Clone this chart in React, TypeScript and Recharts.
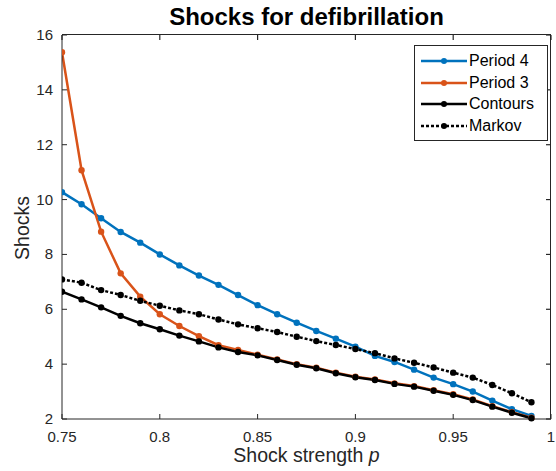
import React from 'react';
import { LineChart, Line, XAxis, YAxis, Label } from 'recharts';

// shock strength p
const strength = [
  0.75, 0.76, 0.77, 0.78, 0.79, 0.8, 0.81, 0.82, 0.83, 0.84, 0.85, 0.86, 0.87,
  0.88, 0.89, 0.9, 0.91, 0.92, 0.93, 0.94, 0.95, 0.96, 0.97, 0.98, 0.99,
];
const period4 = [
  10.27, 9.83, 9.32, 8.82, 8.43, 8.0, 7.6, 7.23, 6.89, 6.52, 6.15, 5.82, 5.51,
  5.21, 4.93, 4.64, 4.3, 4.08, 3.8, 3.51, 3.27, 3.0, 2.67, 2.36, 2.11,
];
const period3 = [
  15.37, 11.07, 8.83, 7.31, 6.46, 5.82, 5.39, 5.02, 4.69, 4.52, 4.34, 4.17, 4.0,
  3.87, 3.69, 3.54, 3.44, 3.3, 3.2, 3.05, 2.9, 2.71, 2.47, 2.25, 2.05,
];
const contours = [
  6.64, 6.36, 6.07, 5.76, 5.49, 5.27, 5.04, 4.83, 4.61, 4.44, 4.32, 4.15, 3.98,
  3.85, 3.67, 3.52, 3.42, 3.28, 3.18, 3.03, 2.88, 2.69, 2.45, 2.23, 2.03,
];
const markov = [
  7.09, 6.97, 6.7, 6.52, 6.31, 6.13, 5.96, 5.82, 5.63, 5.45, 5.31, 5.17, 5.0,
  4.84, 4.7, 4.55, 4.4, 4.21, 4.05, 3.88, 3.69, 3.51, 3.24, 2.94, 2.61,
];
const xTicks = [0.75, 0.8, 0.85, 0.9, 0.95, 1];
const yTicks = [2, 4, 6, 8, 10, 12, 14, 16];

const data = strength.map((p, i) => ({
  p,
  period4: period4[i],
  period3: period3[i],
  contours: contours[i],
  markov: markov[i],
}));

const series = [
  { key: 'period4', name: 'Period 4', color: '#0072BD', dash: undefined },
  { key: 'period3', name: 'Period 3', color: '#D95319', dash: undefined },
  { key: 'contours', name: 'Contours', color: '#000000', dash: undefined },
  { key: 'markov', name: 'Markov', color: '#000000', dash: '3 2' },
];

const X_DOMAIN = [0.75, 1];
const Y_DOMAIN = [2, 16];

const W = 556;
const H = 471;
const MARGIN = { top: 35, right: 5, bottom: 0, left: 0 };
const Y_AXIS_W = 62;
const X_AXIS_H = 52;

const AXIS = '#262626';
const FONT = '"Liberation Sans", Arial, Helvetica, sans-serif';
const TICK = 5;

const BottomTick = (props: any) => {
  const { x, y, payload } = props;
  return (
    <g>
      <line x1={x} y1={y} x2={x} y2={y - TICK} stroke={AXIS} strokeWidth={1} />
      <text x={x} y={y + 23} textAnchor="middle" fill={AXIS} fontSize={15} fontFamily={FONT}>
        {payload.value}
      </text>
    </g>
  );
};

const LeftTick = (props: any) => {
  const { x, y, payload } = props;
  return (
    <g>
      <line x1={x} y1={y} x2={x + TICK} y2={y} stroke={AXIS} strokeWidth={1} />
      <text x={x - 9} y={y + 5} textAnchor="end" fill={AXIS} fontSize={15} fontFamily={FONT}>
        {payload.value}
      </text>
    </g>
  );
};

// top and right edges of the axes box with inward ticks (MATLAB "box on")
const BoxFrame = () => {
  const left = MARGIN.left + Y_AXIS_W;
  const right = W - MARGIN.right;
  const top = MARGIN.top;
  const bottom = H - MARGIN.bottom - X_AXIS_H;
  const sx = (v: number) => left + ((v - X_DOMAIN[0]) / (X_DOMAIN[1] - X_DOMAIN[0])) * (right - left);
  const sy = (v: number) => bottom - ((v - Y_DOMAIN[0]) / (Y_DOMAIN[1] - Y_DOMAIN[0])) * (bottom - top);
  return (
    <>
      <div
        style={{
          position: 'absolute',
          left,
          top: top - 1,
          width: right - left,
          height: bottom - top + 1,
          borderTop: `1px solid ${AXIS}`,
          borderRight: `1px solid ${AXIS}`,
          boxSizing: 'border-box',
          pointerEvents: 'none',
          zIndex: 2,
        }}
      />
      <svg
        width={W}
        height={H}
        style={{ position: 'absolute', left: 0, top: 0, pointerEvents: 'none', zIndex: 2 }}
      >
        {xTicks.map((t) => (
          <line key={`x${t}`} x1={sx(t)} y1={top} x2={sx(t)} y2={top + TICK} stroke={AXIS} strokeWidth={1.2} />
        ))}
        {yTicks.map((t) => (
          <line key={`y${t}`} x1={right} y1={sy(t)} x2={right - TICK} y2={sy(t)} stroke={AXIS} strokeWidth={1.2} />
        ))}
      </svg>
    </>
  );
};

const LegendBox = () => (
  <div
    style={{
      position: 'absolute',
      left: 414,
      top: 45,
      zIndex: 3,
      border: `1px solid ${AXIS}`,
      background: '#fff',
      padding: '4px 13px 3px 5px',
      fontFamily: FONT,
      fontSize: 16,
      color: '#000',
    }}
  >
    {series.map((s) => (
      <div key={s.key} style={{ display: 'flex', alignItems: 'center', height: 21.7 }}>
        <svg width={48} height={10} style={{ marginRight: 1 }}>
          <line x1={1} y1={5} x2={47} y2={5} stroke={s.color} strokeWidth={2.5} strokeDasharray={s.dash} />
          <circle cx={24} cy={5} r={3} fill={s.color} />
        </svg>
        <span>{s.name}</span>
      </div>
    ))}
  </div>
);

export default function App() {
  return (
    <div style={{ position: 'absolute', left: 0, top: 0, width: W, height: H, background: '#fff' }}>
      <div
        style={{
          position: 'absolute',
          left: Y_AXIS_W,
          top: 3,
          width: W - Y_AXIS_W - MARGIN.right,
          textAlign: 'center',
          fontFamily: FONT,
          fontSize: 24,
          fontWeight: 'bold',
          color: '#000',
          lineHeight: '28px',
        }}
      >
        Shocks for defibrillation
      </div>
      <LineChart width={W} height={H} data={data} margin={MARGIN}>
        <XAxis
          dataKey="p"
          type="number"
          domain={X_DOMAIN}
          ticks={xTicks}
          interval={0}
          height={X_AXIS_H}
          tickSize={0}
          tickMargin={0}
          tickLine={false}
          tick={<BottomTick />}
          stroke={AXIS}
          allowDataOverflow
        >
          <Label
            content={(props: any) => {
              const vb = props.viewBox;
              return (
                <text
                  x={vb.x + vb.width / 2}
                  y={vb.y + 43}
                  textAnchor="middle"
                  fill={AXIS}
                  fontSize={19.5}
                  fontFamily={FONT}
                >
                  Shock strength <tspan fontStyle="italic">p</tspan>
                </text>
              );
            }}
          />
        </XAxis>
        <YAxis
          type="number"
          domain={Y_DOMAIN}
          ticks={yTicks}
          interval={0}
          width={Y_AXIS_W}
          tickSize={0}
          tickMargin={0}
          tickLine={false}
          tick={<LeftTick />}
          stroke={AXIS}
        >
          <Label
            content={(props: any) => {
              const vb = props.viewBox;
              const cx = 24;
              const cy = vb.y + vb.height / 2 + 1;
              return (
                <text
                  x={cx}
                  y={cy}
                  transform={`rotate(-90 ${cx} ${cy})`}
                  textAnchor="middle"
                  dominantBaseline="middle"
                  fill={AXIS}
                  fontSize={19.5}
                  fontFamily={FONT}
                >
                  Shocks
                </text>
              );
            }}
          />
        </YAxis>
        {series.map((s) => (
          <Line
            key={s.key}
            dataKey={s.key}
            name={s.name}
            stroke={s.color}
            strokeWidth={2.5}
            strokeDasharray={s.dash}
            dot={{ r: 3.2, fill: s.color, stroke: s.color, strokeWidth: 0 }}
            activeDot={false}
            isAnimationActive={false}
          />
        ))}
      </LineChart>
      <BoxFrame />
      <LegendBox />
    </div>
  );
}
